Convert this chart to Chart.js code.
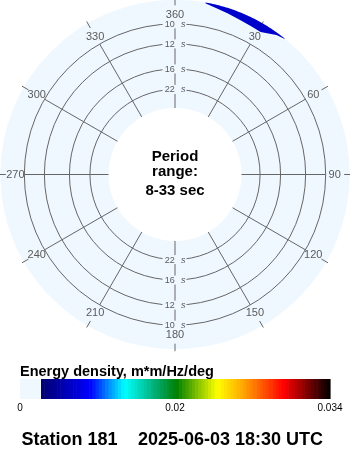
<!DOCTYPE html>
<html><head><meta charset="utf-8">
<script src="https://cdn.jsdelivr.net/npm/chart.js@4.4.1/dist/chart.umd.min.js"></script>
<style>html,body{margin:0;padding:0;background:#fff;}#wrap{width:350px;height:450px;}</style>
</head><body><div id="wrap"><canvas id="c" width="350" height="450"></canvas></div>
<script>
// ---------- data ----------
const directionValues = [0, 30, 60, 90, 120, 150, 180, 210, 240, 270, 300, 330];
const directionLabels = ['360', '30', '60', '90', '120', '150', '180', '210', '240', '270', '300', '330'];
const ringPeriods = [10, 12, 16, 22];
const ringLabels = ['10', '12', '16', '22'];
const periodMin = 8;
const periodMax = 33;
const freqInner = 0.03;   // Hz, edge of white centre
const freqOuter = 0.12;   // Hz, edge of disk
// energy patch (direction in deg, inner frequency edge in Hz); outer edge reaches freqOuter
const energyDirs = [10, 14, 18, 23, 27, 31, 33.5, 36, 39];
const energyInnerFreq = [0.1194, 0.1172, 0.1158, 0.1141, 0.1134, 0.1129, 0.1154, 0.1182, 0.1198];
const energyValue = 0.0037;
const colorbarMax = 0.034;
const colorbarTickLabels = ['0', '0.02', '0.034'];
const colorbarTitle = 'Energy density, m*m/Hz/deg';
const stationLabel = 'Station 181';
const timeLabel = '2025-06-03 18:30 UTC';

// ---------- styling ----------
const diskColor = '#F0F8FF';
const gridColor = '#666666';
const labelColor = '#5a5a5a';
const cmapStops = [
  [0.00, 0, 0, 110], [0.17, 0, 0, 255], [0.23, 0, 130, 255], [0.29, 0, 255, 255],
  [0.40, 0, 170, 110], [0.47, 0, 128, 0], [0.61, 255, 255, 0], [0.70, 255, 165, 0],
  [0.84, 255, 0, 0], [0.92, 128, 0, 0], [1.00, 0, 0, 0]
];
function cmap(t) {
  t = Math.max(0, Math.min(1, t));
  for (let i = 1; i < cmapStops.length; i++) {
    const a = cmapStops[i - 1], b = cmapStops[i];
    if (t <= b[0]) {
      const u = (t - a[0]) / (b[0] - a[0]);
      const c = [1, 2, 3].map(k => Math.round(a[k] + (b[k] - a[k]) * u));
      return `rgb(${c[0]},${c[1]},${c[2]})`;
    }
  }
  return 'rgb(0,0,0)';
}

// radial position (plot units) of a frequency
const R = f => 30.4 + 1202.6 * f;
function polarR(dirDeg, r) { const a = dirDeg * Math.PI / 180; return { x: r * Math.sin(a), y: r * Math.cos(a) }; }
const polar = (dirDeg, f) => polarR(dirDeg, R(f));

const innerEdge = energyDirs.map((d, i) => polar(d, energyInnerFreq[i]));
const outerEdge = [];
for (let d = energyDirs[0]; d <= energyDirs[energyDirs.length - 1] + 1e-9; d += 0.5) outerEdge.push(polar(d, freqOuter));
const blobColor = cmap(energyValue / colorbarMax);

const decor = {
  id: 'decor',
  beforeDraw(chart) {
    const ctx = chart.ctx, xs = chart.scales.x, ys = chart.scales.y;
    const cx = xs.getPixelForValue(0), cy = ys.getPixelForValue(0);
    const unit = xs.getPixelForValue(1) - cx;
    const PR = (d, r) => { const p = polarR(d, r); return [xs.getPixelForValue(p.x), ys.getPixelForValue(p.y)]; };
    ctx.save();
    ctx.fillStyle = '#fff'; ctx.fillRect(0, 0, chart.width, chart.height);
    ctx.beginPath(); ctx.arc(cx, cy, R(freqOuter) * unit, 0, 2 * Math.PI); ctx.fillStyle = diskColor; ctx.fill();
    ctx.beginPath(); ctx.arc(cx, cy, R(freqInner) * unit, 0, 2 * Math.PI); ctx.fillStyle = '#fff'; ctx.fill();
    ctx.strokeStyle = gridColor; ctx.lineWidth = 1;
    ringPeriods.forEach(p => { ctx.beginPath(); ctx.arc(cx, cy, R(1 / p) * unit, 0, 2 * Math.PI); ctx.stroke(); });
    const rEnd = R(1 / ringPeriods[0]);
    directionValues.forEach(d => {
      const a = PR(d, R(freqInner)), b = PR(d, rEnd);
      ctx.beginPath(); ctx.moveTo(a[0], a[1]); ctx.lineTo(b[0], b[1]); ctx.stroke();
      const t1 = PR(d, rEnd + 18.5), t2 = PR(d, rEnd + 26);
      ctx.beginPath(); ctx.moveTo(t1[0], t1[1]); ctx.lineTo(t2[0], t2[1]); ctx.stroke();
    });
    ctx.restore();
  },
  afterDatasetsDraw(chart) {
    const ctx = chart.ctx, xs = chart.scales.x, ys = chart.scales.y;
    const cx = xs.getPixelForValue(0), cy = ys.getPixelForValue(0);
    const PR = (d, r) => { const p = polarR(d, r); return [xs.getPixelForValue(p.x), ys.getPixelForValue(p.y)]; };
    ctx.save();
    // direction labels
    ctx.fillStyle = labelColor; ctx.font = "11px 'Liberation Sans', Arial, sans-serif";
    ctx.textAlign = 'center'; ctx.textBaseline = 'middle';
    const rLab = R(1 / ringPeriods[0]) + 9;
    directionValues.forEach((d, i) => { const p = PR(d, rLab); ctx.fillText(directionLabels[i], p[0], p[1] + 0.5); });
    // ring labels (top and bottom)
    ringPeriods.forEach((p, i) => {
      [0, 180].forEach(d => {
        const q = PR(d, R(1 / p));
        ctx.fillStyle = diskColor; ctx.fillRect(q[0] - 12.5, q[1] - 4.5, 24, 9);
        ctx.fillStyle = labelColor;
        ctx.font = "9px 'Liberation Sans', Arial, sans-serif"; ctx.textAlign = 'right';
        ctx.fillText(ringLabels[i], q[0] - 0.2, q[1] + 0.5);
        ctx.font = "italic 9px 'Liberation Sans', Arial, sans-serif"; ctx.textAlign = 'left';
        ctx.fillText('s', q[0] + 6, q[1] + 0.5);
      });
    });
    // centre text
    ctx.fillStyle = '#000'; ctx.font = "bold 15px 'Liberation Sans', Arial, sans-serif";
    ctx.textAlign = 'center'; ctx.textBaseline = 'alphabetic';
    ctx.fillText('Period', cx, cy - 13.5);
    ctx.fillText('range:', cx, cy + 1.5);
    ctx.fillText(`${periodMin}-${periodMax} sec`, cx, cy + 20.5);
    ctx.restore();
  },
  afterDraw(chart) {
    const ctx = chart.ctx;
    ctx.save();
    // colour bar
    const x0 = 20, x1 = 330, xz = 41, y0 = 379, h = 20;
    ctx.fillStyle = '#000'; ctx.font = "bold 14.5px 'Liberation Sans', Arial, sans-serif";
    ctx.textAlign = 'left'; ctx.textBaseline = 'alphabetic';
    ctx.fillText(colorbarTitle, x0, 375.5);
    ctx.fillStyle = diskColor; ctx.fillRect(x0, y0, xz - x0, h);
    const nBands = 90, bw = (x1 - xz) / nBands;
    for (let i = 0; i < nBands; i++) {
      ctx.fillStyle = cmap((i + 0.5) / nBands);
      ctx.fillRect(xz + i * bw, y0, bw + 0.6, h);
    }
    ctx.fillStyle = '#000'; ctx.font = "10px 'Liberation Sans', Arial, sans-serif"; ctx.textAlign = 'center';
    colorbarTickLabels.forEach((t, i) => {
      ctx.fillText(t, x0 + i * (x1 - x0) / (colorbarTickLabels.length - 1), 411);
    });
    // footer
    ctx.font = "bold 18px 'Liberation Sans', Arial, sans-serif"; ctx.textAlign = 'left';
    ctx.fillText(stationLabel, 21.5, 444.5);
    ctx.fillText(timeLabel, 138, 444.5);
    ctx.restore();
  }
};

new Chart(document.getElementById('c'), {
  type: 'scatter',
  data: {
    datasets: [
      { label: 'energy inner', data: innerEdge, showLine: true, fill: '+1', backgroundColor: blobColor,
        borderColor: 'rgba(0,0,0,0)', borderWidth: 0, pointRadius: 0, tension: 0 },
      { label: 'energy outer', data: outerEdge, showLine: true, fill: false,
        borderColor: 'rgba(0,0,0,0)', borderWidth: 0, pointRadius: 0, tension: 0 }
    ]
  },
  options: {
    responsive: false, animation: false, devicePixelRatio: 1,
    layout: { padding: { left: 0, right: 0, top: 0, bottom: 101 } },
    scales: {
      x: { type: 'linear', min: -175, max: 175, display: false },
      y: { type: 'linear', min: -174.5, max: 174.5, display: false }
    },
    plugins: { legend: { display: false }, tooltip: { enabled: false }, filler: { propagate: false } },
    events: []
  },
  plugins: [decor]
});
</script>
</body></html>
